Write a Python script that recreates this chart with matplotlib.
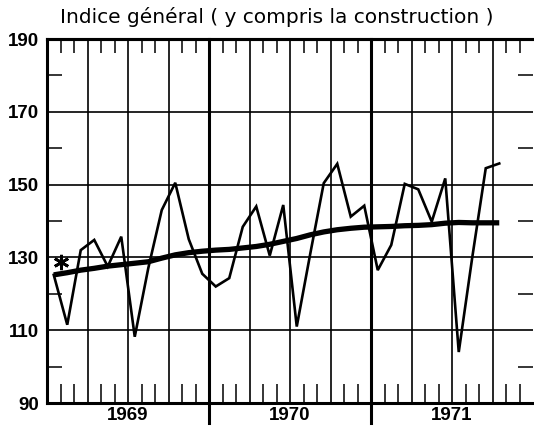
import matplotlib
matplotlib.use("Agg")
import matplotlib.pyplot as plt
import numpy as np

# ---- data (monthly, Jan 1969 .. Oct 1971) ----
monthly_index = [125.2, 111.5, 132.0, 134.8, 127.5, 135.7, 108.2, 127.0, 143.0, 150.5, 135.0, 125.5,
                 122.0, 124.3, 138.4, 144.0, 130.5, 144.4, 111.0, 131.0, 150.4, 155.7, 141.2, 144.2,
                 126.5, 133.4, 150.2, 148.7, 139.8, 151.7, 104.0, 130.0, 154.5, 155.8]
trend_index = [125.2, 125.8, 126.5, 127.0, 127.6, 128.0, 128.4, 128.8, 129.8, 130.7, 131.3, 131.7,
               132.0, 132.2, 132.6, 133.0, 133.6, 134.4, 135.2, 136.2, 137.0, 137.6, 138.0, 138.3,
               138.4, 138.5, 138.7, 138.8, 139.0, 139.4, 139.6, 139.5, 139.5, 139.5]
star_point = (1.0, 128.8)
year_labels = ["1969", "1970", "1971"]
y_tick_labels = [90, 110, 130, 150, 170, 190]
title = "Indice général ( y compris la construction )"

months = np.arange(len(monthly_index)) + 0.5

fig = plt.figure(figsize=(5.34, 4.26), dpi=100)
ax = fig.add_axes([47/534, 23/426, 486/534, 364/426])

ax.set_xlim(0, 36)
ax.set_ylim(90, 190)

# grid
for yv in [110, 130, 150, 170]:
    ax.axhline(yv, color="black", lw=1.2, zorder=1)
for q in range(3, 36, 3):
    if q % 12 == 0:
        continue
    ax.axvline(q, color="black", lw=1.2, zorder=1)
for yb in [12, 24]:
    ax.axvline(yb, ymin=-0.055, ymax=1, color="black", lw=2.2, zorder=2, clip_on=False)

# data
ax.plot(months, monthly_index, color="black", lw=1.9, zorder=3, solid_joinstyle="miter")
ax.plot(months, trend_index, color="black", lw=3.8, zorder=4, solid_capstyle="butt")
ax.plot([star_point[0]], [star_point[1]], marker=(6, 2, 0), ms=11, mew=2.0,
        color="black", zorder=5, clip_on=False)

# spines
for s in ["left", "top", "bottom"]:
    ax.spines[s].set_linewidth(2.2)
ax.spines["right"].set_visible(False)

# y ticks
ax.set_yticks(y_tick_labels)
ax.set_yticklabels([str(v) for v in y_tick_labels], fontfamily="Liberation Sans",
                   fontweight="bold", fontsize=13.5)
ax.set_yticks(np.arange(100, 190, 20), minor=True)
ax.tick_params(axis="y", which="major", length=0, pad=6)
ax.tick_params(axis="y", which="minor", direction="in", length=11, width=1.1,
               left=True, right=True)

# x ticks (bottom)
ax.set_xticks([6, 18, 30])
ax.set_xticklabels(year_labels, fontfamily="Liberation Sans", fontweight="bold", fontsize=13.5)
ax.tick_params(axis="x", which="major", length=0, pad=3)
minor_months = [m for m in range(1, 36) if m % 3 != 0]
ax.set_xticks(minor_months, minor=True)
ax.tick_params(axis="x", which="minor", direction="in", length=14, width=1.1,
               bottom=True, top=False)

# top ticks
sec = ax.secondary_xaxis("top")
sec.set_xticks(minor_months)
sec.set_xticklabels([])
sec.tick_params(axis="x", direction="in", length=10, width=1.1)
sec.spines["top"].set_linewidth(2.2)

fig.text(277/534, 1 - 17/426, title, ha="center", va="center",
         fontfamily="DejaVu Sans", fontsize=14.5)

fig.savefig("out.png", dpi=100)
